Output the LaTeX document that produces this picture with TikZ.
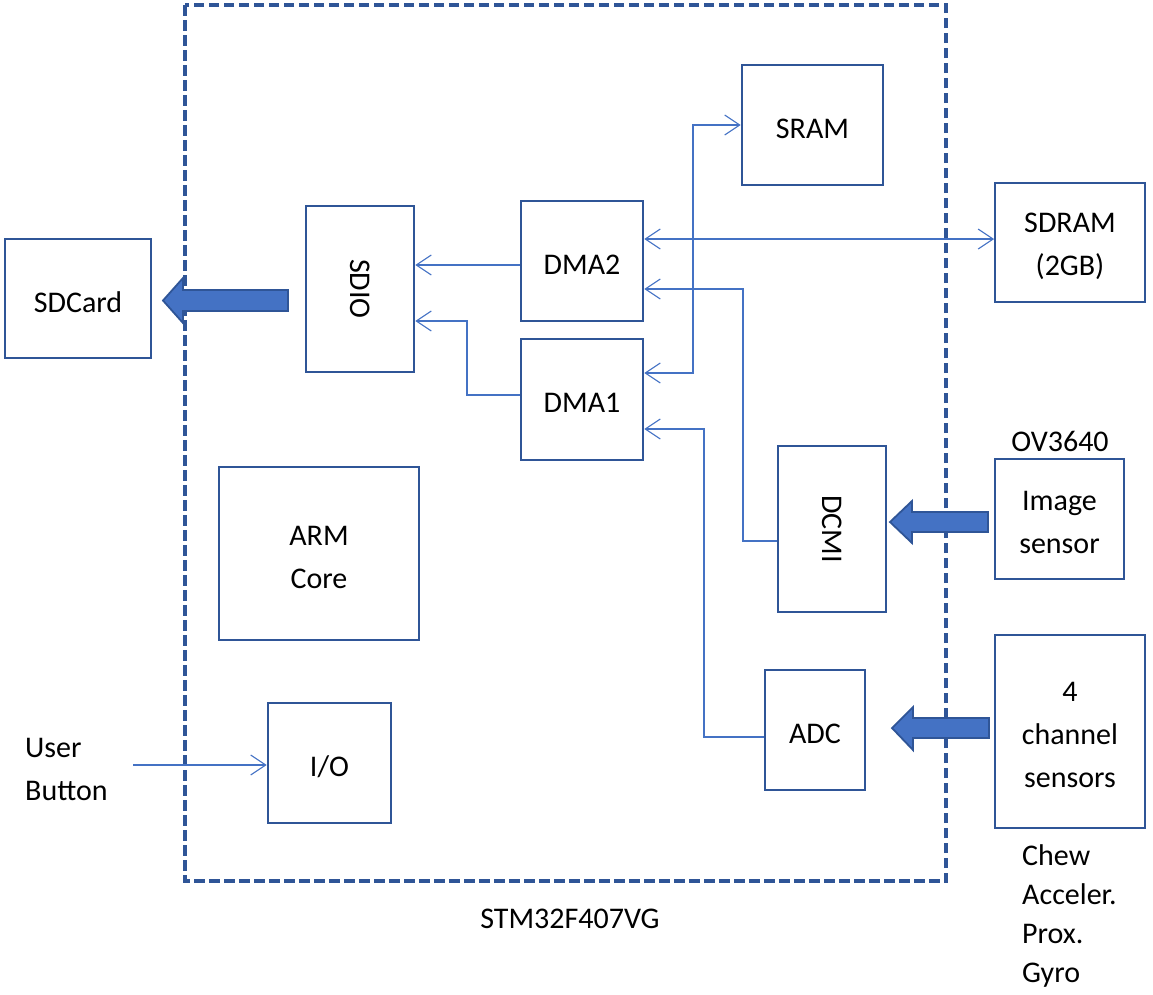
\documentclass[tikz,border=0pt]{standalone}
\usepackage{fontspec}
\setmainfont{Carlito}
\usetikzlibrary{arrows.meta}
\definecolor{boxblue}{HTML}{2F5597}
\definecolor{linkblue}{HTML}{4472C4}
\begin{document}
\begin{tikzpicture}[x=1pt,y=-1pt,
  every node/.style={font=\fontsize{30}{43}\selectfont, text=black},
  blk/.style={draw=boxblue, line width=2.6pt, inner sep=0pt},
  ext/.style={draw=boxblue, line width=1.8pt, inner sep=0pt},
  txt/.style={label={[inner sep=0pt, align=center, yshift=-3.5pt]center:#1}},
  rtxt/.style={label={[inner sep=0pt, rotate=-90]center:#1}},
  conn/.style={draw=linkblue, line width=1.2pt, -{Straight Barb[length=15pt,width=20pt,line width=1.1pt]}},
  bconn/.style={draw=linkblue, line width=1.2pt, {Straight Barb[length=15pt,width=20pt,line width=1.1pt]}-{Straight Barb[length=15pt,width=20pt,line width=1.1pt]}},
  fat/.style={fill=linkblue, draw=boxblue, line width=1.8pt, line join=miter},
  lbl/.style={inner sep=0pt}
]
\useasboundingbox (0,0) rectangle (1153,994);

% chip outline
\draw[boxblue, line width=3.2pt, dash pattern=on 10.5pt off 4.5pt] (185,5) rectangle (946,881);
\node[lbl] (chip) at (570,919) {STM32F407VG};

% blocks
\node[ext, minimum width=146, minimum height=119, txt={SDCard}] (sdcard) at (78,298.5) {};
\node[blk, minimum width=108, minimum height=166, rtxt={SDIO}] (sdio) at (360,289) {};
\node[blk, minimum width=122, minimum height=120, txt={DMA2}] (dma2) at (582,261) {};
\node[blk, minimum width=122, minimum height=121, txt={DMA1}] (dma1) at (582,399.5) {};
\node[blk, minimum width=141, minimum height=120, txt={SRAM}] (sram) at (812.5,125) {};
\node[ext, minimum width=150, minimum height=119, txt={SDRAM\\(2GB)}] (sdram) at (1070,242.5) {};
\node[ext, minimum width=129, minimum height=120, txt={Image\\sensor}] (img) at (1059.5,519) {};
\node[lbl] (ov) at (1060,441) {OV3640};
\node[blk, minimum width=108, minimum height=166, rtxt={DCMI}] (dcmi) at (832,529) {};
\node[blk, minimum width=200, minimum height=173, txt={ARM\\Core}] (arm) at (319,553.5) {};
\node[blk, minimum width=100, minimum height=120, txt={ADC}] (adc) at (815,730) {};
\node[ext, minimum width=150, minimum height=193, txt={4\\channel\\sensors}] (sens) at (1070,731.5) {};
\node[blk, minimum width=123, minimum height=120, txt={I/O}] (io) at (329.5,763) {};
\node[lbl, align=left, anchor=west] (user) at (25,769) {User\\Button};

\node[lbl, anchor=base west] (chew) at (1022,865) {Chew};
\node[lbl, anchor=base west] (accel) at (1022,904) {Acceler.};
\node[lbl, anchor=base west] (prox) at (1022,943) {Prox.};
\node[lbl, anchor=base west] (gyro) at (1022,982) {Gyro};

% thin connectors
\draw[conn] (dma2.west |- 0,265) -- (sdio.east |- 0,265);
\draw[conn] (dma1.west |- 0,395) -- (467,395) -- (467,321) -- (sdio.east |- 0,321);
\draw[bconn] (dma1.east |- 0,373) -- (693,373) -- (693,125) -- (sram.west);
\draw[bconn] (dma2.east |- 0,239) -- (sdram.west |- 0,239);
\draw[conn] (dcmi.west |- 0,541) -- (743,541) -- (743,289) -- (dma2.east |- 0,289);
\draw[conn] (adc.west |- 0,737) -- (704,737) -- (704,429) -- (dma1.east |- 0,429);
\draw[conn] (133,765) -- (io.west |- 0,765);

% block arrows
\draw[fat] (288,290) -- (183,290) -- (183,278) -- (163,300.5) -- (183,323) -- (183,311) -- (288,311) -- cycle;
\draw[fat] (988,512) -- (912,512) -- (912,501) -- (890,522) -- (912,543) -- (912,532) -- (988,532) -- cycle;
\draw[fat] (989,718) -- (913,718) -- (913,707) -- (892,728) -- (913,750) -- (913,738) -- (989,738) -- cycle;
\end{tikzpicture}
\end{document}
